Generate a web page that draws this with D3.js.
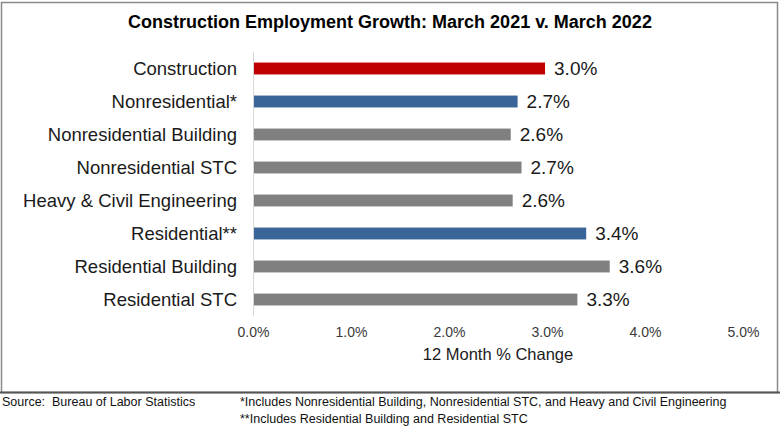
<!DOCTYPE html>
<html>
<head>
<meta charset="utf-8">
<script src="https://cdn.jsdelivr.net/npm/d3@7"></script>
<style>
  body { margin: 0; background: #fff; }
  #chart { width: 780px; height: 439px; }
  text { font-family: Arial, "Liberation Sans", sans-serif; }
</style>
</head>
<body>
<div id="chart"></div>
<script>
//Datos
const categories = ['Construction', 'Nonresidential*', 'Nonresidential Building', 'Nonresidential STC',
    'Heavy & Civil Engineering', 'Residential**', 'Residential Building', 'Residential STC'];
const values = [2.98, 2.70, 2.63, 2.74, 2.65, 3.40, 3.64, 3.31];
const valueLabels = ['3.0%', '2.7%', '2.6%', '2.7%', '2.6%', '3.4%', '3.6%', '3.3%'];
const groups = ['total', 'sub', 'detail', 'detail', 'detail', 'sub', 'detail', 'detail'];
const xTicks = [0, 1, 2, 3, 4, 5];

//Colores fijos
const COLOR_TOTAL = '#C00000',
COLOR_SUB = '#3A6599',
COLOR_DETAIL = '#808080';

let data = categories.map(function(c, i) {
    return { cat: c, value: values[i], label: valueLabels[i], group: groups[i] };
});

let W = 780, H = 439;
let margin = {top: 52, right: 37, bottom: 124, left: 253},
    width = W - margin.left - margin.right,
    height = H - margin.top - margin.bottom;

let root = d3.select('#chart')
    .append('svg')
      .attr('width', W)
      .attr('height', H);

//Marco
root.append('rect')
    .attr('x', 1.5).attr('y', 2.5)
    .attr('width', 776).attr('height', 390)
    .attr('fill', 'none')
    .attr('stroke', '#8a8a8a')
    .attr('stroke-width', 1.5);
root.append('line')
    .attr('x1', 0).attr('x2', 780)
    .attr('y1', 392.5).attr('y2', 392.5)
    .attr('stroke', '#555')
    .attr('stroke-width', 2);

//Título
root.append('text')
    .attr('x', 390).attr('y', 28)
    .attr('text-anchor', 'middle')
    .style('font-size', '18px')
    .style('font-weight', 'bold')
    .style('fill', '#000')
    .text('Construction Employment Growth: March 2021 v. March 2022');

let svg = root.append('g')
    .attr('transform', 'translate(' + margin.left + ',' + margin.top + ')');

let x = d3.scaleLinear()
    .domain([0, 5])
    .range([0, width]);

let y = d3.scaleBand()
    .domain(categories)
    .range([0, 264])
    .paddingInner(0.64)
    .paddingOuter(0.32);

//Eje Y
svg.append('line')
    .attr('x1', 0.5).attr('x2', 0.5)
    .attr('y1', 0).attr('y2', 264)
    .attr('stroke', '#d9d9d9')
    .attr('stroke-width', 1);

svg.append('g')
    .selectAll('text')
    .data(data)
    .enter()
    .append('text')
    .attr('x', -16)
    .attr('y', function(d) { return y(d.cat) + y.bandwidth() / 2; })
    .attr('dy', '0.35em')
    .attr('text-anchor', 'end')
    .style('font-size', '18.5px')
    .style('fill', '#1a1a1a')
    .text(function(d) { return d.cat; });

//Eje X
let xAxis = d3.axisBottom(x)
    .tickValues(xTicks)
    .tickSize(0)
    .tickPadding(0)
    .tickFormat(function(d) { return d.toFixed(1) + '%'; });

svg.append('g')
    .attr('transform', 'translate(0,' + 275 + ')')
    .call(xAxis)
    .call(function(g) { g.select('.domain').remove(); })
    .call(function(g) {
        g.selectAll('text')
            .style('font-family', 'Arial, "Liberation Sans", sans-serif')
            .style('font-size', '14px')
            .style('fill', '#3a3a3a');
    });

svg.append('text')
    .attr('x', x(2.5))
    .attr('y', 308)
    .attr('text-anchor', 'middle')
    .style('font-size', '16.5px')
    .style('fill', '#1a1a1a')
    .text('12 Month % Change');

//Barras
svg.selectAll('bars')
    .data(data)
    .enter()
    .append('rect')
    .attr('class', 'rect')
    .attr('x', x(0) + 1)
    .attr('y', function(d) { return y(d.cat); })
    .attr('width', function(d) { return x(d.value) - x(0) - 1; })
    .attr('height', y.bandwidth())
    .attr('fill', function(d) {
        if (d.group == 'total') {
            return COLOR_TOTAL;
        } else if (d.group == 'sub') {
            return COLOR_SUB;
        } else {
            return COLOR_DETAIL;
        }
    });

//Etiquetas de valor
svg.selectAll('labels')
    .data(data)
    .enter()
    .append('text')
    .attr('x', function(d) { return x(d.value) + 9; })
    .attr('y', function(d) { return y(d.cat) + y.bandwidth() / 2; })
    .attr('dy', '0.35em')
    .style('font-size', '19px')
    .style('fill', '#1a1a1a')
    .text(function(d) { return d.label; });

//Notas
let notes = root.append('g')
    .style('font-family', '"Liberation Sans Narrow", "Arial Narrow", Arial, sans-serif')
    .style('font-size', '12.5px')
    .style('fill', '#111');
notes.append('text').attr('x', 2).attr('y', 406).text('Source:\u00a0 Bureau of Labor Statistics');
notes.append('text').attr('x', 240).attr('y', 406)
    .text('*Includes Nonresidential Building, Nonresidential STC, and Heavy and Civil Engineering');
notes.append('text').attr('x', 240).attr('y', 423)
    .text('**Includes Residential Building and Residential STC');
</script>
</body>
</html>
